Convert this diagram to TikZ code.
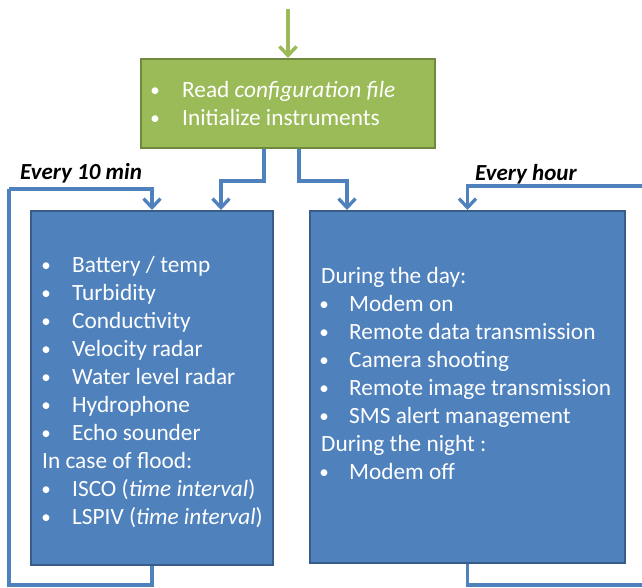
\documentclass[tikz,border=0pt]{standalone}
\usepackage{fontspec}
\setmainfont{Carlito}
\usetikzlibrary{arrows.meta}
\definecolor{boxblue}{HTML}{4F81BD}
\definecolor{boxborder}{HTML}{385D8A}
\definecolor{boxgreen}{HTML}{9BBB59}
\definecolor{greenborder}{HTML}{71893F}
\tikzset{
  bluebox/.style={rectangle, fill=boxblue, draw=boxborder, line width=2pt, inner sep=0pt},
  greenbox/.style={rectangle, fill=boxgreen, draw=greenborder, line width=2pt, inner sep=0pt},
  flow/.style={draw=boxblue, line width=3.3pt, -{Straight Barb[length=9pt,width=17pt,line width=3.3pt]}},
  loopline/.style={draw=boxblue, line width=3.3pt},
  greenarrow/.style={draw=boxgreen, line width=3.5pt, -{Straight Barb[length=9pt,width=17pt,line width=3.5pt]}},
  txt/.style={anchor=base west, inner sep=0pt, text=white, font=\fontsize{23.3}{28}\selectfont},
  bul/.style={anchor=base, inner sep=0pt, text=white, font=\fontsize{19}{28}\selectfont},
  lbl/.style={anchor=base west, inner sep=0pt, text=black, font=\fontsize{23}{28}\selectfont\bfseries\itshape},
}
\begin{document}
\begin{tikzpicture}[x=1pt, y=-1pt]
\useasboundingbox (0,0) rectangle (642,587);
\clip (0,0) rectangle (642,587);

% boxes
\node[greenbox, minimum width=294pt, minimum height=89pt] (init) at (288,103.5) {};
\node[bluebox, minimum width=242pt, minimum height=354pt] (left) at (152,388) {};
\node[bluebox, minimum width=315pt, minimum height=352pt] (right) at (467.5,387) {};

% green box text
\node[bul] (gb1) at (155,96) {\textbullet};
\node[txt] (g1) at (182,97) {Read \textit{configuration file}};
\node[bul] (gb2) at (155,124) {\textbullet};
\node[txt] (g2) at (182,125) {Initialize instruments};

% left box text
\node[bul] (lb1) at (46,271) {\textbullet};
\node[txt] (l1) at (72,272) {Battery / temp};
\node[bul] (lb2) at (46,299) {\textbullet};
\node[txt] (l2) at (72,300) {Turbidity};
\node[bul] (lb3) at (46,327) {\textbullet};
\node[txt] (l3) at (72,328) {Conductivity};
\node[bul] (lb4) at (46,355) {\textbullet};
\node[txt] (l4) at (72,356) {Velocity radar};
\node[bul] (lb5) at (46,383) {\textbullet};
\node[txt] (l5) at (72,384) {Water level radar};
\node[bul] (lb6) at (46,411) {\textbullet};
\node[txt] (l6) at (72,412) {Hydrophone};
\node[bul] (lb7) at (46,439) {\textbullet};
\node[txt] (l7) at (72,440) {Echo sounder};
\node[txt] (l8) at (42,468) {In case of flood:};
\node[bul] (lb9) at (46,495) {\textbullet};
\node[txt] (l9) at (72,496) {ISCO (\textit{time interval})};
\node[bul] (lb10) at (46,523) {\textbullet};
\node[txt] (l10) at (72,524) {LSPIV (\textit{time interval})};

% right box text
\node[txt] (r1) at (321,283) {During the day:};
\node[bul] (rb2) at (324,310) {\textbullet};
\node[txt] (r2) at (349,311) {Modem on};
\node[bul] (rb3) at (324,338) {\textbullet};
\node[txt] (r3) at (349,339) {Remote data transmission};
\node[bul] (rb4) at (324,366) {\textbullet};
\node[txt] (r4) at (349,367) {Camera shooting};
\node[bul] (rb5) at (324,394) {\textbullet};
\node[txt] (r5) at (349,395) {Remote image transmission};
\node[bul] (rb6) at (324,422) {\textbullet};
\node[txt] (r6) at (349,423) {SMS alert management};
\node[txt] (r7) at (321,451) {During the night :};
\node[bul] (rb8) at (324,478) {\textbullet};
\node[txt] (r8) at (349,479) {Modem off};

% labels
\node[lbl] (every10) at (20,179) {Every 10 min};
\node[lbl] (everyhour) at (475,180) {Every hour};

% connectors
\coordinate (start) at (288,9);
\draw[greenarrow] (start) -- (init.north);
\draw[flow] ([xshift=-24pt]init.south) -- ++(0,32) -| ([xshift=69pt]left.north);
\draw[flow] ([xshift=11pt]init.south) -- ++(0,32) -| ([xshift=-120.5pt]right.north);

\coordinate (llb) at (9,585);
\coordinate (llt) at (9,189);
\draw[loopline] (left.south) |- (llb) -- (llt);
\draw[flow] (llt) -| (left.north);

\coordinate (rlb) at (660,585);
\coordinate (rlt) at (660,186);
\draw[loopline] (right.south) |- (rlb) -- (rlt);
\draw[flow] (rlt) -| (right.north);
\end{tikzpicture}
\end{document}
